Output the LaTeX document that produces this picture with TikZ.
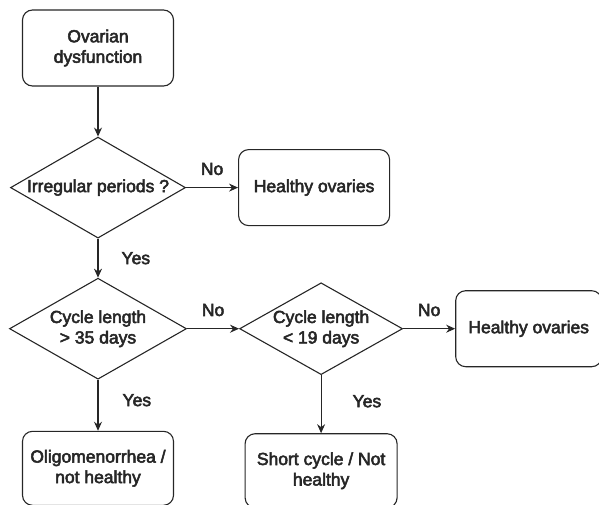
\documentclass[tikz,border=0pt]{standalone}
\usepackage{fontspec}
\setmainfont{Liberation Sans}[FakeBold=3]
\usetikzlibrary{shapes.geometric, arrows.meta, positioning}

\begin{document}
\begin{tikzpicture}[
  x=1pt, y=1pt,
  every node/.style={font=\fontsize{17.5}{20.5}\selectfont, text=black!85},
  box/.style={rectangle, draw=black!85, line width=1.1pt, minimum width=151pt, minimum height=76pt,
    align=center, rounded corners=10pt},
  decision/.style={diamond, draw=black!85, line width=1.1pt, aspect=1.75, inner sep=0pt,
    align=center},
  arrow/.style={-{Stealth[length=9pt, width=8pt]}, line width=1.1pt, draw=black!85},
  lbl/.style={inner sep=0pt}
]
\useasboundingbox (0,0) rectangle (599,-504);

% start
\node (start) [box] at (98,-48) {Ovarian\\dysfunction};

% decisions
\node (irreg) [decision, minimum width=175pt, minimum height=101pt, below=50pt of start] {Irregular periods ?};
\node (long) [decision, minimum width=177pt, minimum height=101pt, below=39pt of irreg] {Cycle length\\> 35 days};
\node (short) [decision, minimum width=163pt, minimum height=88pt, right=52pt of long] {Cycle length\\< 19 days};

% results
\node (healthyA) [box, right=52pt of irreg] {Healthy ovaries};
\node (healthyB) [box, minimum width=146pt, right=52pt of short] {Healthy ovaries};
\node (oligo) [box, minimum height=74pt, below=51pt of long] {Oligomenorrhea /\\not healthy};
\node (shortres) [box, minimum width=152pt, minimum height=74pt, below=58pt of short] {Short cycle / Not\\healthy};

% arrows
\draw [arrow] (start) -- (irreg);
\draw [arrow] (irreg) -- node[lbl, above=12pt] {No} (healthyA);
\draw [arrow] (irreg) -- node[lbl, right=23pt] {Yes} (long);
\draw [arrow] (long) -- node[lbl, above=12pt] {No} (short);
\draw [arrow] (short) -- node[lbl, above=12pt] {No} (healthyB);
\draw [arrow] (long) -- node[lbl, right=24pt, pos=0.4] {Yes} (oligo);
\draw [arrow] (short) -- node[lbl, right=31pt, pos=0.45] {Yes} (shortres);

\end{tikzpicture}
\end{document}
